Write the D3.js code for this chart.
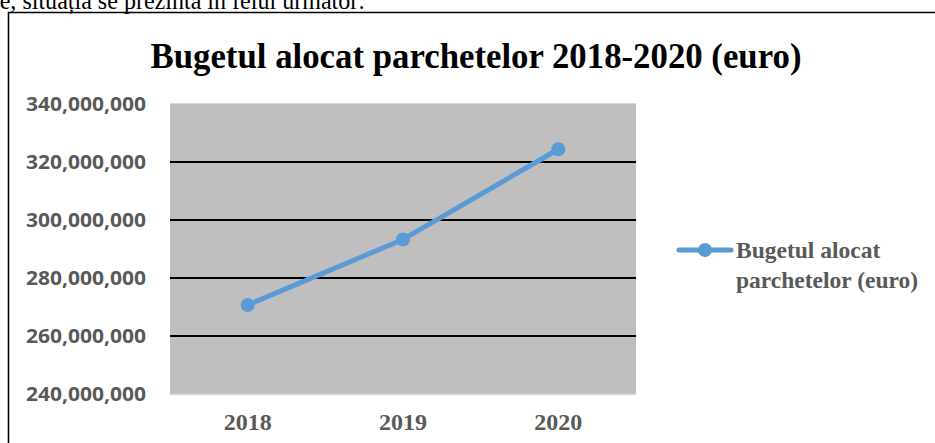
<!DOCTYPE html>
<html><head><meta charset="utf-8">
<script src="https://cdn.jsdelivr.net/npm/d3@7"></script>
<style>body{margin:0;background:#fff;overflow:hidden}svg{display:block}</style>
</head><body>
<svg id="c" width="935" height="443"></svg>
<script>
const categories = ["2018", "2019", "2020"];
const values = [270700000, 293300000, 324400000];
const yTicks = [240000000, 260000000, 280000000, 300000000, 320000000, 340000000];
const title = "Bugetul alocat parchetelor 2018-2020 (euro)";
const legendLines = ["Bugetul alocat", "parchetelor (euro)"];
const introText = "le, situația se prezintă în felul următor:";

const svg = d3.select("#c");
const serif = "'Liberation Serif','Times New Roman',serif";
const sans = "'Open Sans','Noto Sans',sans-serif";

// intro text (cut at the top)
svg.append("text").attr("x", -7).attr("y", 8.5).attr("font-family", serif)
  .attr("font-size", 26).attr("fill", "#000")
  .attr("textLength", 372).attr("lengthAdjust", "spacingAndGlyphs").text(introText);

// frame
svg.append("path").attr("d", "M8.5,450 V12.5 H940").attr("fill", "none")
  .attr("stroke", "#000").attr("stroke-width", 1.6);

const L = 170, R = 636, T = 104, B = 394;
const x = d3.scaleBand().domain(categories).range([L, R]);
const y = d3.scaleLinear().domain([240000000, 340000000]).range([B, T]);

svg.append("rect").attr("x", L).attr("y", T).attr("width", R - L).attr("height", B - T).attr("fill", "#BFBFBF");
svg.append("line").attr("x1", L).attr("x2", R).attr("y1", T - 0.5).attr("y2", T - 0.5).attr("stroke", "#D9D9D9").attr("stroke-width", 1);
svg.append("line").attr("x1", L).attr("x2", R).attr("y1", B + 0.5).attr("y2", B + 0.5).attr("stroke", "#D9D9D9").attr("stroke-width", 1.5);

// gridlines
svg.append("g").selectAll("line").data(yTicks.filter(v => v > 240000000 && v < 340000000)).join("line")
  .attr("x1", L).attr("x2", R).attr("y1", d => y(d)).attr("y2", d => y(d))
  .attr("stroke", "#000").attr("stroke-width", 2);

// y axis
const fmt = d3.format(",");
const yAxis = svg.append("g").attr("transform", `translate(${L},0)`)
  .call(d3.axisLeft(y).tickValues(yTicks).tickFormat(fmt).tickSize(0).tickPadding(24));
yAxis.select(".domain").remove();
yAxis.selectAll("text").attr("font-family", sans).attr("font-weight", "bold")
  .attr("font-size", 20).attr("fill", "#595959")
  .attr("textLength", 120).attr("lengthAdjust", "spacingAndGlyphs");

// x axis
const xAxis = svg.append("g").attr("transform", `translate(0,${B})`)
  .call(d3.axisBottom(x).tickSize(0).tickPadding(0));
xAxis.select(".domain").remove();
xAxis.selectAll("text").attr("dy", null).attr("y", 36).attr("font-family", serif).attr("font-weight", "bold")
  .attr("font-size", 24).attr("fill", "#595959");

// line
const color = "#5B9BD5";
const line = d3.line().x((d, i) => x(categories[i]) + x.bandwidth() / 2).y(d => y(d));
svg.append("path").datum(values).attr("d", line).attr("fill", "none")
  .attr("stroke", color).attr("stroke-width", 5).attr("stroke-linecap", "round").attr("stroke-linejoin", "round");
svg.append("g").selectAll("circle").data(values).join("circle")
  .attr("cx", (d, i) => x(categories[i]) + x.bandwidth() / 2).attr("cy", d => y(d))
  .attr("r", 7).attr("fill", color);

// title
svg.append("text").attr("x", 476).attr("y", 68).attr("text-anchor", "middle")
  .attr("font-family", serif).attr("font-weight", "bold").attr("font-size", 35).attr("fill", "#000")
  .attr("textLength", 651).attr("lengthAdjust", "spacingAndGlyphs").text(title);

// legend
const lg = svg.append("g");
lg.append("line").attr("x1", 679).attr("x2", 731).attr("y1", 250).attr("y2", 250)
  .attr("stroke", color).attr("stroke-width", 5).attr("stroke-linecap", "round");
lg.append("circle").attr("cx", 705).attr("cy", 250).attr("r", 7).attr("fill", color);
lg.selectAll("text").data(legendLines).join("text")
  .attr("x", 736).attr("y", (d, i) => 258 + i * 30)
  .attr("font-family", serif).attr("font-weight", "bold").attr("font-size", 23.5).attr("fill", "#595959").text(d => d);
</script>
</body></html>
